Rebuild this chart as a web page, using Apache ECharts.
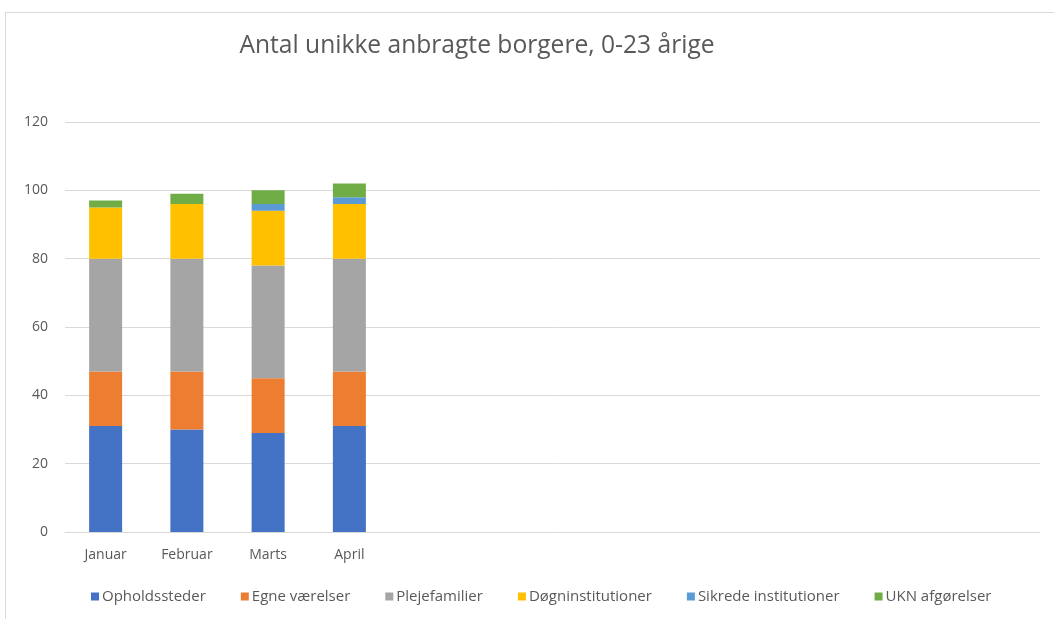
<!DOCTYPE html>
<html><head><meta charset="utf-8">
<script src="https://cdn.jsdelivr.net/npm/echarts@6/dist/echarts.min.js"></script>
<style>
html,body{margin:0;padding:0;background:#fff;}
#frame{position:absolute;left:5px;top:12px;width:1060px;height:620px;border:1px solid #d9d9d9;box-sizing:border-box;}
#c{position:absolute;left:0;top:0;width:1054px;height:619px;}
</style></head>
<body><div id="frame"></div><div id="c"></div>
<script>
const categories = ['Januar','Februar','Marts','April'];
const opholdssteder = [31, 30, 29, 31];
const egneVaerelser = [16, 17, 16, 16];
const plejefamilier = [33, 33, 33, 33];
const dognInstitutioner = [15, 16, 16, 16];
const sikredeInstitutioner = [0, 0, 2, 2];
const uknAfgorelser = [2, 3, 4, 4];
const yTicks = [0, 20, 40, 60, 80, 100, 120];

const names = ['Opholdssteder','Egne værelser','Plejefamilier','Døgninstitutioner','Sikrede institutioner','UKN afgørelser'];
const colors = ['#4472C4','#ED7D31','#A5A5A5','#FFC000','#5B9BD5','#70AD47'];
const values = [opholdssteder, egneVaerelser, plejefamilier, dognInstitutioner, sikredeInstitutioner, uknAfgorelser];
const font = '"Open Sans", sans-serif';

const chart = echarts.init(document.getElementById('c'), null, {renderer:'canvas'});
chart.setOption({
  animation:false,
  color: colors,
  title:{text:'Antal unikke anbragte borgere, 0-23 årige', left:472, top:28, textAlign:'center',
    textStyle:{fontFamily:font, fontSize:24.6, fontWeight:'normal', color:'#595959'}},
  legend:{bottom:10, left:86, itemWidth:8, itemHeight:8, itemGap:35, icon:'rect',
    textStyle:{fontFamily:font, fontSize:15, color:'#595959', padding:[0,0,0,-2]}},
  grid:{left:65, right:14, top:122, bottom:87},
  xAxis:{type:'category', data:categories, max:11,
    axisLine:{lineStyle:{color:'#d9d9d9'}}, axisTick:{show:false},
    axisLabel:{fontFamily:font, fontSize:14, color:'#595959', margin:16}},
  yAxis:{type:'value', min:yTicks[0], max:yTicks[yTicks.length-1], interval:20,
    axisLine:{show:false}, axisTick:{show:false},
    splitLine:{lineStyle:{color:'#d9d9d9'}},
    axisLabel:{fontFamily:font, fontSize:14, color:'#595959', margin:17}},
  series: names.map((n,i)=>({name:n, type:'bar', stack:'total', data:values[i], barWidth:33}))
});
</script></body></html>
